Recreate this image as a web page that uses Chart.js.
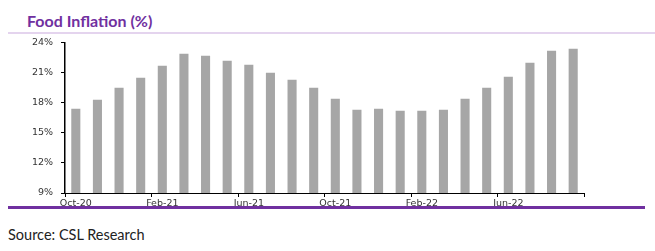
<!DOCTYPE html>
<html>
<head>
<meta charset="utf-8">
<script src="https://cdn.jsdelivr.net/npm/chart.js@4"></script>
<style>
  body { margin: 0; background: #fff; width: 655px; height: 251px; position: relative; overflow: hidden; }
  #title { position: absolute; left: 27px; top: 11px; font: bold 16px Lato, sans-serif; color: #7030a0; }
  #topRule { position: absolute; left: 8px; top: 32px; width: 650px; height: 2px; background: #e4d4ee; }
  #chartBox { position: absolute; left: 0; top: 29px; width: 600px; height: 187px; }
  #bottomRule { position: absolute; left: 8px; top: 206px; width: 637px; height: 3px; background: #7030a0; }
  #source { position: absolute; left: 8px; top: 226px; font: 14.5px Lato, sans-serif; color: #222; }
</style>
</head>
<body>
<div id="title">Food Inflation (%)</div>
<div id="topRule"></div>
<div id="chartBox"><canvas id="ChartCanvas"></canvas></div>
<div id="bottomRule"></div>
<div id="source">Source: CSL Research</div>
<script>
const months = ['Oct-20', 'Nov-20', 'Dec-20', 'Jan-21', 'Feb-21', 'Mar-21', 'Apr-21', 'May-21',
  'Jun-21', 'Jul-21', 'Aug-21', 'Sep-21', 'Oct-21', 'Nov-21', 'Dec-21', 'Jan-22',
  'Feb-22', 'Mar-22', 'Apr-22', 'May-22', 'Jun-22', 'Jul-22', 'Aug-22', 'Sep-22'];
const foodInflation = [17.4, 18.3, 19.5, 20.5, 21.7, 22.9, 22.7, 22.2, 21.8, 21.0, 20.3, 19.5,
  18.4, 17.3, 17.4, 17.2, 17.2, 17.3, 18.4, 19.5, 20.6, 22.0, 23.2, 23.4];
const yTicks = [9, 12, 15, 18, 21, 24];

const tickFont = { family: 'DejaVu Sans, sans-serif', size: 9.5 };

new Chart(document.getElementById('ChartCanvas'), {
  type: 'bar',
  data: {
    labels: months,
    datasets: [{
      label: 'Food Inflation',
      data: foodInflation,
      backgroundColor: '#a6a6a6',
      barPercentage: 0.42,
      categoryPercentage: 1.0,
    }]
  },
  options: {
    animation: false,
    responsive: true,
    maintainAspectRatio: false,
    layout: { padding: { top: 1, right: 16, left: 0, bottom: 0 } },
    plugins: {
      legend: { display: false },
      tooltip: { enabled: false },
    },
    scales: {
      x: {
        offset: true,
        afterFit: (scale) => { scale.height = 23; },
        grid: {
          offset: true,
          drawOnChartArea: false,
          tickLength: 4,
          color: (ctx) => (ctx.index === undefined || ctx.index % 4 === 0) ? '#000' : 'rgba(0,0,0,0)',
        },
        border: { color: '#000', width: 1 },
        ticks: {
          autoSkip: false,
          maxRotation: 0,
          padding: 1,
          color: '#333',
          font: tickFont,
          callback: (value, index) => index % 4 === 0 ? months[index] : '',
        }
      },
      y: {
        min: yTicks[0],
        max: yTicks[yTicks.length - 1],
        afterFit: (scale) => { scale.width = 65; },
        afterBuildTicks: (scale) => { scale.ticks = yTicks.map(v => ({ value: v })); },
        grid: { drawOnChartArea: false, tickLength: 4, color: '#000' },
        border: { color: '#000', width: 1.5 },
        ticks: {
          padding: 8,
          color: '#333',
          font: tickFont,
          callback: (value) => value + '%',
        }
      }
    }
  }
});
</script>
</body>
</html>
